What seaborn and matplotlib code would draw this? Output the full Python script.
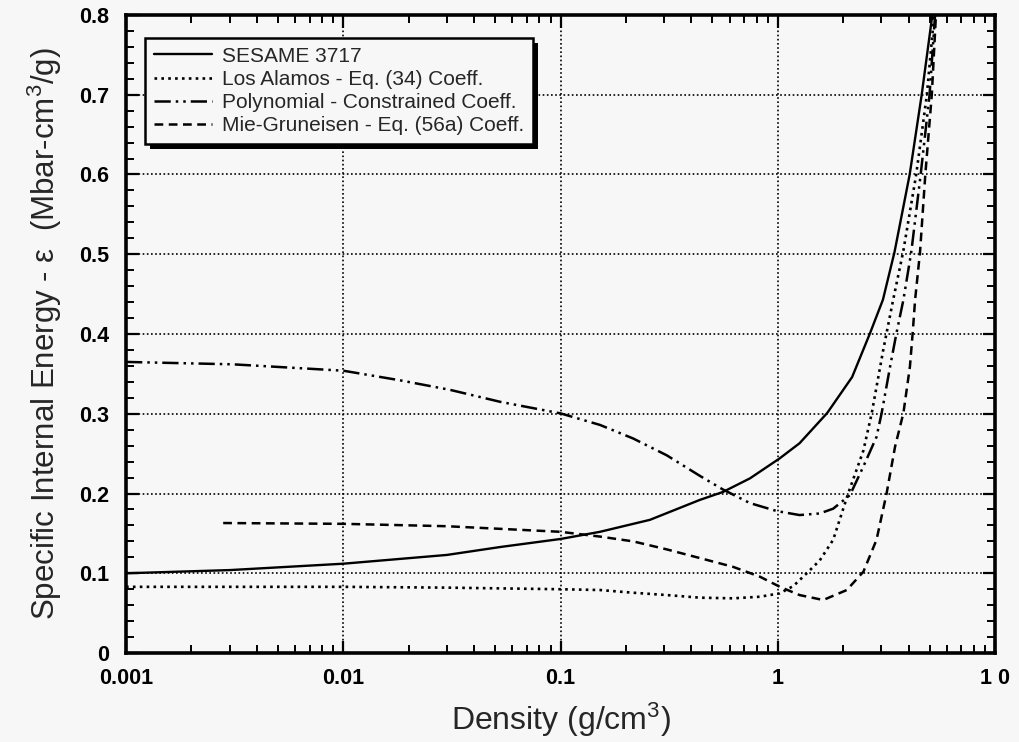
import numpy as np
import pandas as pd
import matplotlib
matplotlib.use("Agg")
import matplotlib.pyplot as plt
from matplotlib.patches import Rectangle
from matplotlib.ticker import FixedLocator, LogLocator, MultipleLocator, NullFormatter
import seaborn as sns

# ---------------- data ----------------
sesame_x = [0.001, 0.003, 0.01, 0.03, 0.053, 0.1, 0.152, 0.258, 0.438, 0.56, 0.745,
            1.02, 1.26, 1.69, 2.2, 2.66, 3.05, 3.45, 4.05, 4.6, 5.15]
sesame_y = [0.100, 0.104, 0.112, 0.123, 0.133, 0.143, 0.152, 0.167, 0.192, 0.202, 0.219,
            0.244, 0.263, 0.301, 0.346, 0.401, 0.443, 0.503, 0.600, 0.700, 0.800]

losalamos_x = [0.001, 0.01, 0.03, 0.1, 0.152, 0.216, 0.308, 0.439, 0.624, 0.828, 1.02,
               1.18, 1.36, 1.56, 1.80, 2.11, 2.48, 2.71, 3.06, 3.40, 3.78, 4.34, 4.86, 5.25]
losalamos_y = [0.083, 0.083, 0.082, 0.080, 0.079, 0.0756, 0.0727, 0.0694, 0.0686, 0.0706, 0.0748,
               0.084, 0.100, 0.116, 0.142, 0.200, 0.254, 0.301, 0.380, 0.443, 0.503, 0.600, 0.700, 0.800]

poly_x = [0.001, 0.0031, 0.01, 0.0182, 0.031, 0.0527, 0.1, 0.152, 0.216, 0.308, 0.439, 0.56,
          0.745, 0.99, 1.26, 1.56, 1.80, 2.15, 2.48, 2.85, 3.01, 3.29, 3.52, 3.79, 4.12, 4.55, 5.0, 5.3]
poly_y = [0.365, 0.362, 0.354, 0.342, 0.330, 0.315, 0.3005, 0.286, 0.269, 0.248, 0.222, 0.205,
          0.188, 0.178, 0.173, 0.175, 0.181, 0.198, 0.234, 0.271, 0.301, 0.359, 0.401, 0.443,
          0.503, 0.600, 0.700, 0.800]

mie_x = [0.0028, 0.01, 0.03, 0.1, 0.152, 0.216, 0.308, 0.439, 0.624, 0.828, 1.02, 1.26, 1.62,
         2.08, 2.48, 2.85, 3.17, 3.47, 3.79, 4.06, 4.18, 4.29, 4.52, 4.78, 5.12, 5.35]
mie_y = [0.163, 0.162, 0.159, 0.152, 0.146, 0.140, 0.130, 0.119, 0.108, 0.0957, 0.0832, 0.0727,
         0.0665, 0.079, 0.102, 0.142, 0.200, 0.259, 0.301, 0.359, 0.401, 0.443, 0.503, 0.600,
         0.700, 0.800]

series_labels = ["SESAME 3717",
                 "Los Alamos - Eq. (34) Coeff.",
                 "Polynomial - Constrained Coeff.",
                 "Mie-Gruneisen - Eq. (56a) Coeff."]

x_ticks = [0.001, 0.01, 0.1, 1, 10]
x_tick_labels = ["0.001", "0.01", "0.1", "1", "1 0"]
y_ticks = [0, 0.1, 0.2, 0.3, 0.4, 0.5, 0.6, 0.7, 0.8]
y_tick_labels = ["0", "0.1", "0.2", "0.3", "0.4", "0.5", "0.6", "0.7", "0.8"]

x_label = "Density (g/cm$^3$)"
y_label = "Specific Internal Energy - \u03b5  (Mbar-cm$^3$/g)"

# ---------------- style ----------------
sns.set_style("ticks")
bg = "#f7f7f7"
plt.rcParams["font.family"] = ["Liberation Sans", "DejaVu Sans"]
plt.rcParams["mathtext.default"] = "regular"
plt.rcParams["figure.facecolor"] = bg
plt.rcParams["axes.facecolor"] = bg
plt.rcParams["savefig.facecolor"] = bg

fig = plt.figure(figsize=(10.19, 7.42), dpi=100)
ax = fig.add_axes([0.1237, 0.1199, 0.9764 - 0.1237, 0.9798 - 0.1199])

styles = [
    dict(linestyle="-", linewidth=1.7),
    dict(linestyle=(0, (1.0, 1.6)), linewidth=1.9),
    dict(linestyle=(0, (6.5, 2.0, 1.0, 2.0, 1.0, 2.0)), linewidth=1.8),
    dict(linestyle=(0, (3.5, 2.2)), linewidth=1.8),
]
datasets = [(sesame_x, sesame_y), (losalamos_x, losalamos_y), (poly_x, poly_y), (mie_x, mie_y)]

for (xs, ys), lab, st in zip(datasets, series_labels, styles):
    df = pd.DataFrame({"x": xs, "y": ys})
    sns.lineplot(data=df, x="x", y="y", ax=ax, color="black", label=lab,
                 sort=False, estimator=None, zorder=3, **st)

ax.set_xscale("log")
ax.set_xlim(0.001, 10)
ax.set_ylim(0, 0.8)

ax.xaxis.set_major_locator(FixedLocator(x_ticks))
ax.set_xticklabels(x_tick_labels)
ax.xaxis.set_minor_locator(LogLocator(base=10, subs=np.arange(2, 10)))
ax.xaxis.set_minor_formatter(NullFormatter())
ax.yaxis.set_major_locator(FixedLocator(y_ticks))
ax.set_yticklabels(y_tick_labels)
ax.yaxis.set_minor_locator(MultipleLocator(0.02))

ax.tick_params(which="both", direction="in", top=True, right=True, colors="black")
ax.tick_params(which="major", length=9, width=1.6)
ax.tick_params(which="minor", length=6, width=1.4)
ax.tick_params(axis="x", which="major", pad=11, labelsize=15.5)
ax.tick_params(axis="y", which="major", pad=12, labelsize=15.5)
for lbl in ax.get_xticklabels() + ax.get_yticklabels():
    lbl.set_fontweight("bold")

for sp in ax.spines.values():
    sp.set_visible(True)
    sp.set_color("black")
    sp.set_linewidth(2.6)

ax.grid(True, which="major", color="black", linestyle=(0, (1.0, 1.5)), linewidth=1.2, zorder=1)
ax.set_axisbelow(True)

ax.set_xlabel(x_label, fontsize=23, labelpad=8)
ax.set_ylabel(y_label, fontsize=22.5, labelpad=11)

leg = ax.legend(loc="upper left", bbox_to_anchor=(0.0219, 0.964), borderaxespad=0,
                prop={"size": 15}, frameon=True, fancybox=False, framealpha=1,
                facecolor=bg, edgecolor="black", handlelength=2.8, handletextpad=0.45,
                labelspacing=0.2, borderpad=0.42)
leg.get_frame().set_linewidth(1.8)
leg.set_zorder(6)

# shadow behind legend box
fig.canvas.draw()
bb = leg.get_frame().get_window_extent()
dx, dy = 5, 5
inv = ax.transAxes.inverted()
(x0, y0), (x1, y1) = inv.transform([[bb.x0 + dx, bb.y0 - dy], [bb.x1 + dx, bb.y1 - dy]])
ax.add_patch(Rectangle((x0, y0), x1 - x0, y1 - y0, transform=ax.transAxes,
                       facecolor="black", edgecolor="none", zorder=5.5, clip_on=False))

fig.savefig("out.png", dpi=100)
